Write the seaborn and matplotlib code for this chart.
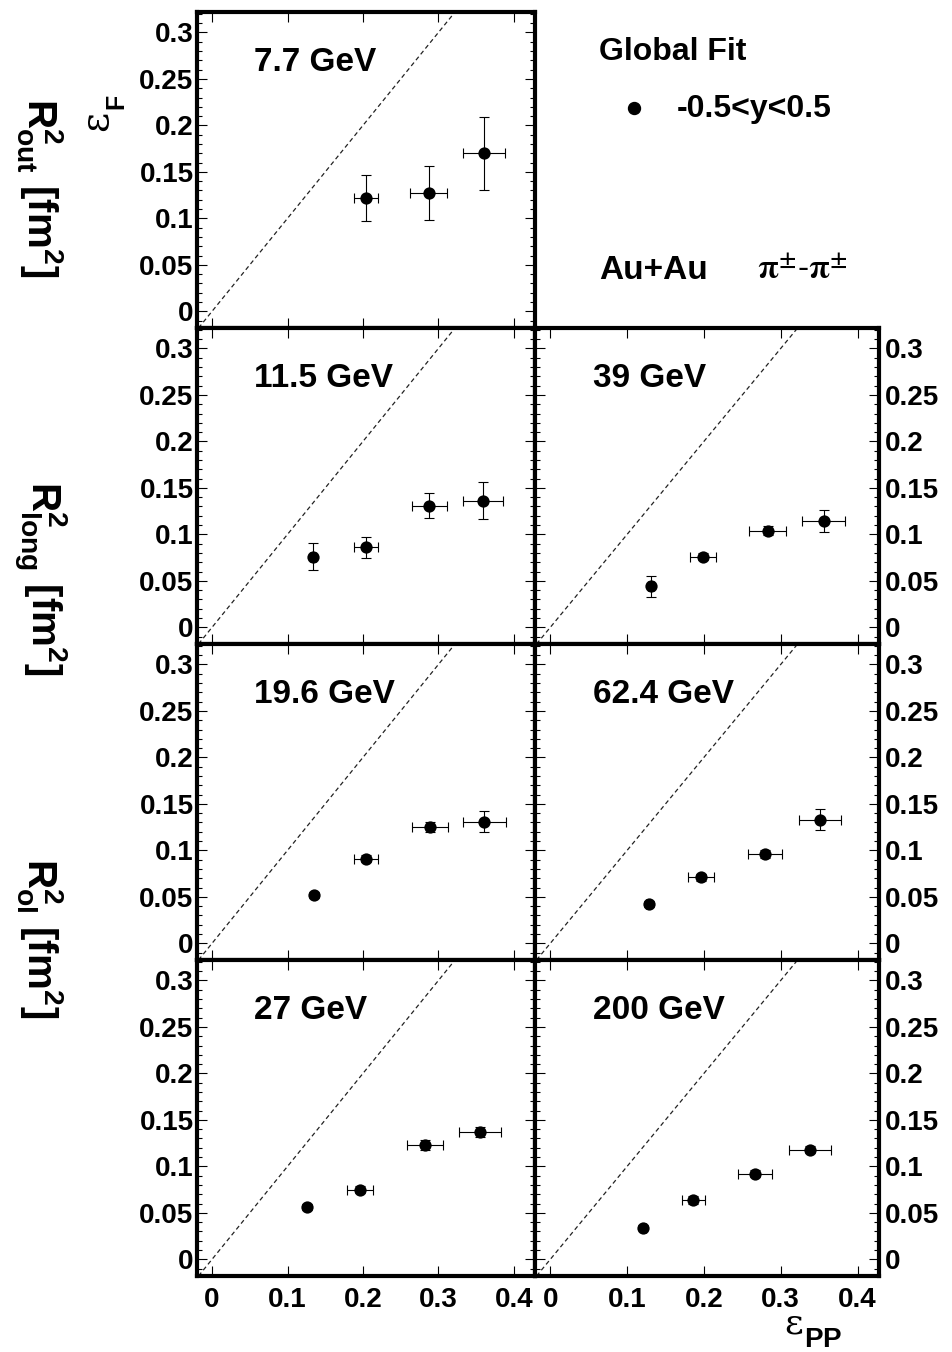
import numpy as np
import pandas as pd
import matplotlib
matplotlib.use("Agg")
import matplotlib.pyplot as plt
from matplotlib.ticker import MultipleLocator
import seaborn as sns

# ---------------- data: eps_F vs eps_PP, Au+Au pi-pi, global fit ----------------
eps_pp_7p7 = [0.204, 0.287, 0.360]
eps_f_7p7 = [0.122, 0.127, 0.170]
eps_pp_err_7p7 = [0.016, 0.025, 0.028]
eps_f_err_7p7 = [0.025, 0.029, 0.039]

eps_pp_11p5 = [0.134, 0.204, 0.288, 0.359]
eps_f_11p5 = [0.076, 0.086, 0.131, 0.136]
eps_pp_err_11p5 = [0.004, 0.016, 0.023, 0.027]
eps_f_err_11p5 = [0.0145, 0.011, 0.0135, 0.020]

eps_pp_19p6 = [0.135, 0.204, 0.289, 0.361]
eps_f_19p6 = [0.052, 0.091, 0.125, 0.131]
eps_pp_err_19p6 = [0.003, 0.016, 0.024, 0.028]
eps_f_err_19p6 = [0.003, 0.004, 0.005, 0.011]

eps_pp_27 = [0.126, 0.196, 0.282, 0.355]
eps_f_27 = [0.056, 0.075, 0.123, 0.137]
eps_pp_err_27 = [0.003, 0.017, 0.024, 0.028]
eps_f_err_27 = [0.003, 0.004, 0.005, 0.005]

eps_pp_39 = [0.131, 0.199, 0.283, 0.356]
eps_f_39 = [0.044, 0.076, 0.104, 0.114]
eps_pp_err_39 = [0.004, 0.017, 0.024, 0.028]
eps_f_err_39 = [0.011, 0.004, 0.005, 0.012]

eps_pp_62p4 = [0.128, 0.196, 0.280, 0.351]
eps_f_62p4 = [0.042, 0.071, 0.096, 0.133]
eps_pp_err_62p4 = [0.003, 0.017, 0.022, 0.027]
eps_f_err_62p4 = [0.003, 0.004, 0.004, 0.0115]

eps_pp_200 = [0.121, 0.186, 0.267, 0.338]
eps_f_200 = [0.034, 0.064, 0.092, 0.118]
eps_pp_err_200 = [0.003, 0.015, 0.022, 0.027]
eps_f_err_200 = [0.003, 0.004, 0.004, 0.004]

energy_labels = ["7.7 GeV", "11.5 GeV", "19.6 GeV", "27 GeV", "39 GeV", "62.4 GeV", "200 GeV"]

x_ticks = [0.0, 0.1, 0.2, 0.3, 0.4]
x_tick_labels = ["0", "0.1", "0.2", "0.3", "0.4"]
y_ticks = [0.0, 0.05, 0.1, 0.15, 0.2, 0.25, 0.3]
y_tick_labels = ["0", "0.05", "0.1", "0.15", "0.2", "0.25", "0.3"]

series = {
    "7.7 GeV": (eps_pp_7p7, eps_f_7p7, eps_pp_err_7p7, eps_f_err_7p7),
    "11.5 GeV": (eps_pp_11p5, eps_f_11p5, eps_pp_err_11p5, eps_f_err_11p5),
    "19.6 GeV": (eps_pp_19p6, eps_f_19p6, eps_pp_err_19p6, eps_f_err_19p6),
    "27 GeV": (eps_pp_27, eps_f_27, eps_pp_err_27, eps_f_err_27),
    "39 GeV": (eps_pp_39, eps_f_39, eps_pp_err_39, eps_f_err_39),
    "62.4 GeV": (eps_pp_62p4, eps_f_62p4, eps_pp_err_62p4, eps_f_err_62p4),
    "200 GeV": (eps_pp_200, eps_f_200, eps_pp_err_200, eps_f_err_200),
}

# (row, column) of each energy in the panel grid
slots = {
    "7.7 GeV": (0, 0),
    "11.5 GeV": (1, 0), "39 GeV": (1, 1),
    "19.6 GeV": (2, 0), "62.4 GeV": (2, 1),
    "27 GeV": (3, 0), "200 GeV": (3, 1),
}

# ---------------- style ----------------
sns.set_theme(style="white")
plt.rcParams["font.family"] = ["Liberation Sans", "DejaVu Sans"]
plt.rcParams["font.weight"] = "bold"
plt.rcParams["text.color"] = "black"
plt.rcParams["axes.labelcolor"] = "black"
plt.rcParams["xtick.color"] = "black"
plt.rcParams["ytick.color"] = "black"
plt.rcParams["mathtext.fontset"] = "custom"
plt.rcParams["mathtext.rm"] = "Liberation Sans:bold"
plt.rcParams["mathtext.bf"] = "Liberation Sans:bold"
plt.rcParams["mathtext.it"] = "Liberation Sans:bold"
# math text follows each text object's own font (family and weight)
plt.rcParams["mathtext.default"] = "regular"

W, H = 952, 1352
fig = plt.figure(figsize=(W / 100, H / 100), dpi=100)
fig.patch.set_facecolor("white")

col_px = [(197, 535), (535, 879)]
row_top_px = [12, 328, 644, 960]
row_h_px = 316
XLIM = (-0.02, 0.428)
YLIM = (-0.018, 0.322)
TICK_FS = 20


def panel_rect(row, col):
    x0, x1 = col_px[col]
    top = row_top_px[row]
    return [x0 / W, 1 - (top + row_h_px) / H, (x1 - x0) / W, row_h_px / H]


for label in energy_labels:
    row, col = slots[label]
    ax = fig.add_axes(panel_rect(row, col))
    x, y, xe, ye = series[label]
    df = pd.DataFrame({"eps_pp": x, "eps_f": y, "eps_pp_err": xe, "eps_f_err": ye})

    # eps_F = eps_PP reference line
    ax.axline((0, 0), slope=1, color="#222222", lw=0.9, dashes=(3.5, 2.5), zorder=1)
    ax.errorbar(df["eps_pp"], df["eps_f"], xerr=df["eps_pp_err"], yerr=df["eps_f_err"],
                fmt="none", ecolor="black", elinewidth=0.8, capsize=3.6, capthick=0.8, zorder=2)
    sns.scatterplot(data=df, x="eps_pp", y="eps_f", ax=ax, color="black", s=78,
                    edgecolor="black", linewidth=0, zorder=3, legend=False)

    ax.set_xlim(*XLIM)
    ax.set_ylim(*YLIM)
    ax.set_xlabel("")
    ax.set_ylabel("")
    ax.set_xticks(x_ticks)
    ax.set_yticks(y_ticks)
    ax.yaxis.set_minor_locator(MultipleLocator(0.01))
    ax.tick_params(which="both", direction="in", top=True, bottom=True, left=True, right=True,
                   color="black", width=0.8)
    ax.tick_params(which="major", length=7)
    ax.tick_params(which="minor", length=3.5)
    for sp in ax.spines.values():
        sp.set_linewidth(3)
        sp.set_color("black")

    if row == 3:
        ax.set_xticklabels(x_tick_labels, fontsize=TICK_FS, fontweight="bold")
        ax.tick_params(axis="x", pad=8, labelcolor="black")
    else:
        ax.tick_params(axis="x", labelbottom=False)

    ax.set_yticklabels(y_tick_labels, fontsize=TICK_FS, fontweight="bold")
    if col == 0:
        ax.tick_params(axis="y", labelleft=True, labelright=False, pad=2.5, labelcolor="black")
    else:
        ax.tick_params(axis="y", labelleft=False, labelright=True, pad=4, labelcolor="black")

    ax.text(0.056, 0.259, label, fontsize=24, fontweight="bold", ha="left", va="baseline",
            color="black", zorder=4)
    ax.set_facecolor("white")

# ---------------- legend / annotations in the empty upper-right cell ----------------
leg = fig.add_axes(panel_rect(0, 1))
leg.set_axis_off()
leg.set_xlim(535, 879)
leg.set_ylim(328, 12)
leg.text(599, 60, "Global Fit", fontsize=23, fontweight="bold", ha="left", va="baseline",
         color="black")
leg.plot([634], [108], "o", color="black", ms=8.6)
leg.text(677, 117, "-0.5<y<0.5", fontsize=23, fontweight="bold", ha="left", va="baseline",
         color="black")
leg.text(599, 279, "Au+Au", fontsize=24, fontweight="bold", ha="left", va="baseline",
         color="black")
leg.text(757, 279, r"$\mathrm{\pi}^{\mathrm{\pm}}$-$\mathrm{\pi}^{\mathrm{\pm}}$", fontsize=24,
         ha="left", va="baseline", math_fontfamily="stix", fontweight="normal", color="black")


def fx(px):
    return px / W


def fy(py):
    return 1 - py / H


# ---------------- axis titles ----------------
fig.text(fx(40), fy(188), r"$R^{2}_{out}\ [fm^{2}]$", rotation=-90, fontsize=29,
         ha="center", va="center")
fig.text(fx(40), fy(578), r"$R^{2}_{long}\ [fm^{2}]$", rotation=-90, fontsize=29,
         ha="center", va="center")
fig.text(fx(40), fy(938), r"$R^{2}_{ol}\ [fm^{2}]$", rotation=-90, fontsize=29,
         ha="center", va="center")

# epsilon_F (rotated) on the top-left panel
fig.text(fx(99), fy(123), r"$\varepsilon$", family="DejaVu Serif", fontweight="normal",
         fontsize=28, rotation=90, ha="center", va="center")
fig.text(fx(118), fy(103), r"$F$", fontsize=18, rotation=90, ha="center", va="center")

# epsilon_PP below the lower-right panel
fig.text(fx(794), fy(1324), r"$\varepsilon$", family="DejaVu Serif", fontweight="normal",
         fontsize=26, ha="center", va="center")
fig.text(fx(823), fy(1340), r"$PP$", fontsize=20, ha="center", va="center")

fig.savefig("out.png", dpi=100, facecolor="white")
